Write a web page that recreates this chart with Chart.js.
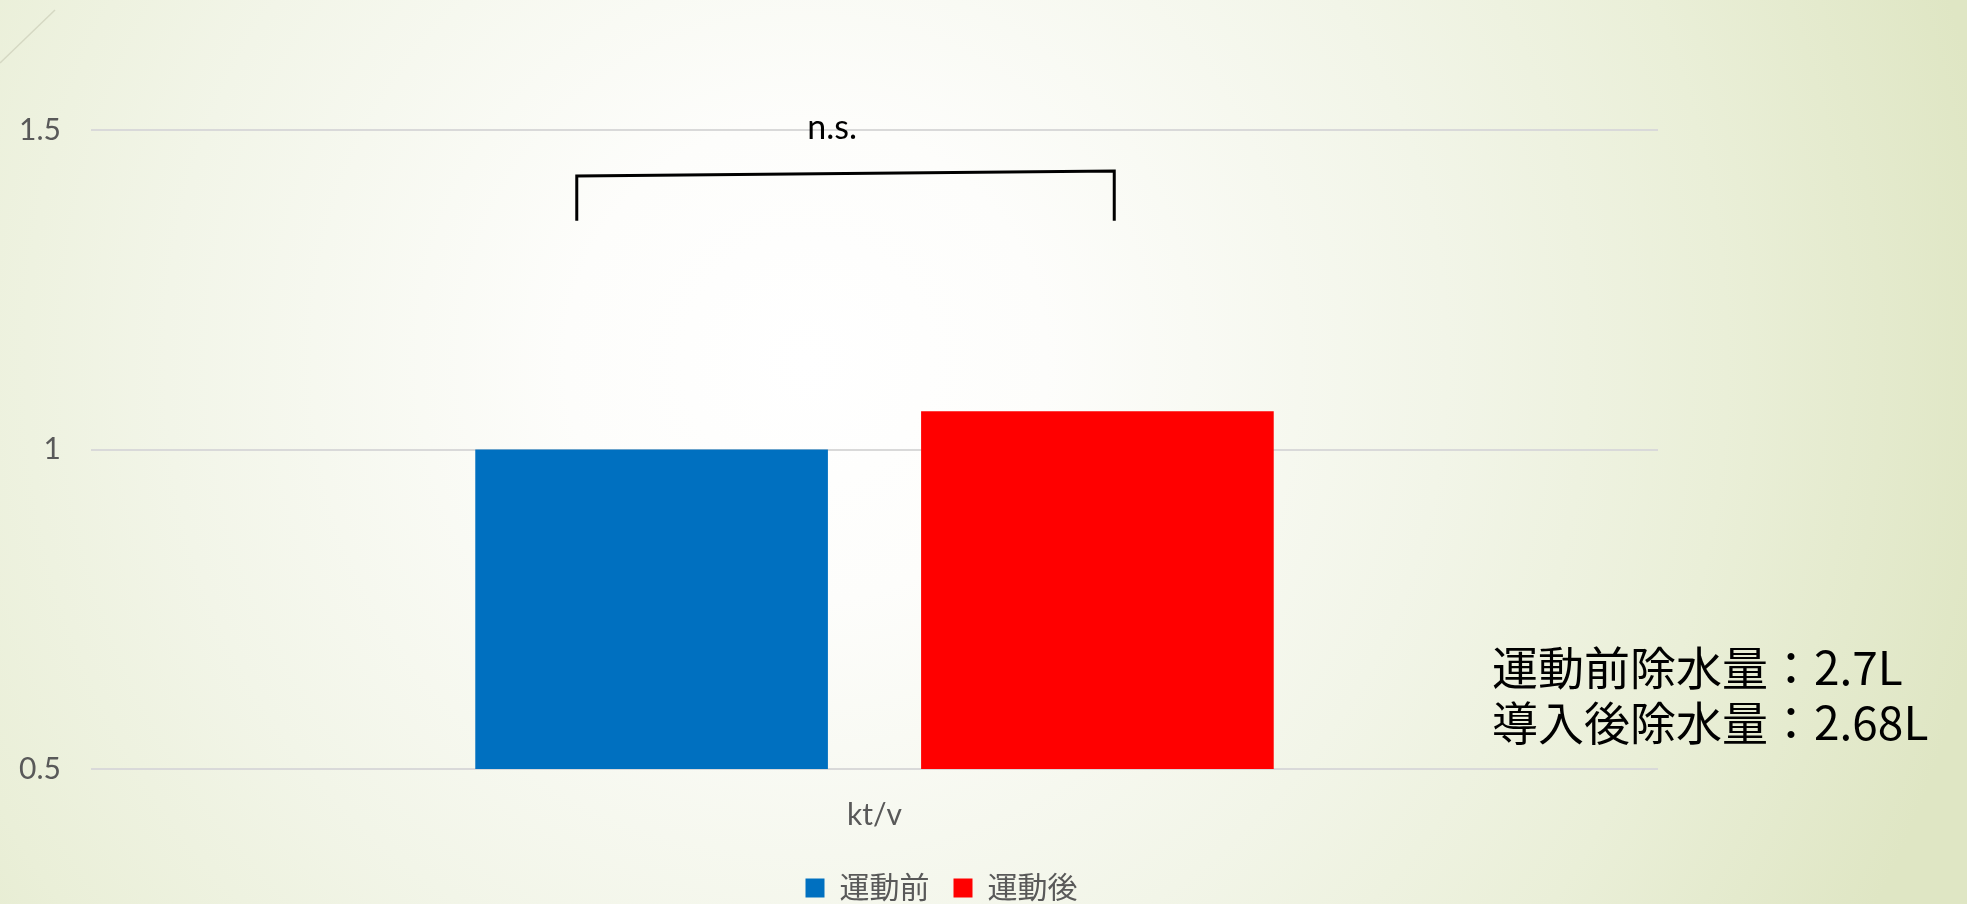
<!DOCTYPE html>
<html>
<head>
<meta charset="utf-8">
<script src="https://cdn.jsdelivr.net/npm/chart.js@4/dist/chart.umd.min.js"></script>
<style>
  html, body {
    margin: 0;
    padding: 0;
    width: 1967px;
    height: 904px;
    overflow: hidden;
    background: radial-gradient(circle at 41% 40%, #ffffff 0px, #fdfdfb 240px, #f2f5e8 640px, #eaefd8 920px, #dfe6c4 1200px);
  }
  #wrap { position: relative; width: 1967px; height: 904px; }
</style>
</head>
<body>
<div id="wrap"><canvas id="chart" width="1967" height="904"></canvas></div>
<script>
const categories = ['kt/v'];
const beforeValues = [1.0];
const afterValues = [1.06];
const seriesLabels = ['運動前', '運動後'];
const seriesColors = ['#0070C0', '#FF0000'];
const yMin = 0.5;
const yMax = 1.5;
const yStep = 0.5;

// annotation text and where it sits (bracket in axis units / plot fractions)
const sigLabel = 'n.s.';
const sigLabelAt = { xFrac: 0.473, y: 1.503 };
const bracketX = [0.310, 0.653];
const bracketTop = [1.428, 1.436];
const bracketFoot = 1.358;
const noteLines = ['運動前除水量：2.7L', '導入後除水量：2.68L'];

const textColor = '#595959';
Chart.defaults.font.family = 'Lato, "Noto Sans CJK JP", sans-serif';
Chart.defaults.color = textColor;

const legendPad = 24;

const annotations = {
  id: 'annotations',
  beforeDraw(chart) {
    const ctx = chart.ctx;
    ctx.save();
    ctx.strokeStyle = '#d5d8c3';
    ctx.lineWidth = 1.5;
    ctx.beginPath();
    ctx.moveTo(0, 63);
    ctx.lineTo(55, 10);
    ctx.stroke();
    ctx.restore();
  },
  afterDraw(chart) {
    const { ctx, chartArea: area, scales: { y } } = chart;
    const w = area.right - area.left;
    const xl = area.left + w * bracketX[0];
    const xr = area.left + w * bracketX[1];

    ctx.save();
    ctx.strokeStyle = '#000';
    ctx.lineWidth = 3;
    ctx.beginPath();
    ctx.moveTo(xl, y.getPixelForValue(bracketFoot));
    ctx.lineTo(xl, y.getPixelForValue(bracketTop[0]));
    ctx.lineTo(xr, y.getPixelForValue(bracketTop[1]));
    ctx.lineTo(xr, y.getPixelForValue(bracketFoot));
    ctx.stroke();

    ctx.fillStyle = '#000';
    ctx.font = '34px Lato, sans-serif';
    ctx.textAlign = 'center';
    ctx.textBaseline = 'middle';
    ctx.fillText(sigLabel, area.left + w * sigLabelAt.xFrac, y.getPixelForValue(sigLabelAt.y));

    ctx.font = '46px "Noto Sans CJK JP", sans-serif';
    ctx.textAlign = 'left';
    noteLines.forEach((line, i) => {
      ctx.fillText(line, 1492, 668 + i * 55);
    });
    ctx.restore();
  }
};

new Chart('chart', {
  type: 'bar',
  data: {
    labels: categories,
    datasets: [
      { label: seriesLabels[0], data: beforeValues, backgroundColor: seriesColors[0] },
      { label: seriesLabels[1], data: afterValues, backgroundColor: seriesColors[1] }
    ]
  },
  options: {
    responsive: false,
    animation: false,
    devicePixelRatio: 1,
    categoryPercentage: 0.569,
    barPercentage: 0.791,
    layout: { padding: { top: 130, left: 0, right: 84, bottom: -9 } },
    plugins: {
      tooltip: { enabled: false },
      legend: {
        position: 'bottom',
        labels: {
          boxWidth: 19,
          boxHeight: 19,
          padding: legendPad,
          color: textColor,
          font: { size: 30 }
        }
      }
    },
    scales: {
      x: {
        grid: { display: false, drawTicks: false },
        border: { display: false },
        ticks: { padding: 28, color: textColor, font: { size: 30 } },
        afterFit: s => { s.height = 104 - legendPad; }
      },
      y: {
        min: yMin,
        max: yMax,
        grid: { color: '#d9d9d9', lineWidth: 2, drawTicks: false },
        border: { display: false },
        ticks: {
          stepSize: yStep,
          padding: 30,
          color: textColor,
          font: { size: 30 },
          callback: v => String(v)
        },
        afterFit: s => { s.width = 91; }
      },
      y2: {
        position: 'right',
        grid: { display: false, drawTicks: false },
        border: { display: false },
        ticks: { display: false },
        afterFit: s => { s.width = 225; }
      }
    }
  },
  plugins: [annotations]
});
</script>
</body>
</html>
